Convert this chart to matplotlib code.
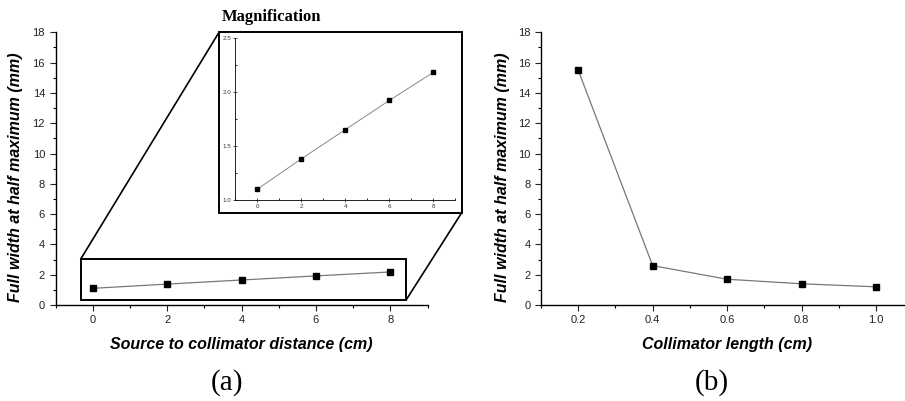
import numpy as np
import matplotlib
matplotlib.use("Agg")
import matplotlib.pyplot as plt
from matplotlib.patches import Rectangle, ConnectionPatch
from matplotlib.ticker import MultipleLocator

plt.rcParams['font.family'] = ['Liberation Sans', 'DejaVu Sans']

# (a) source to collimator distance
dist_cm = [0, 2, 4, 6, 8]
fwhm_dist = [1.10, 1.38, 1.65, 1.92, 2.18]

# (b) collimator length
length_cm = [0.2, 0.4, 0.6, 0.8, 1.0]
fwhm_len = [15.5, 2.6, 1.7, 1.4, 1.2]

W, H = 905, 401
fig = plt.figure(figsize=(W / 100, H / 100), dpi=100)

def px(x0, y_top, x1, y_bot):
    # pixel box -> figure fraction [left, bottom, width, height]
    return [x0 / W, 1 - y_bot / H, (x1 - x0) / W, (y_bot - y_top) / H]

def style_axes(ax, size=8, major=4, minor=2):
    ax.spines['top'].set_visible(False)
    ax.spines['right'].set_visible(False)
    for s in ('left', 'bottom'):
        ax.spines[s].set_linewidth(1.0)
    ax.tick_params(which='major', direction='out', length=major, width=0.8,
                   labelsize=size, colors='#222222')
    ax.tick_params(which='minor', direction='out', length=minor, width=0.8)

label_font = dict(fontsize=11.5, fontweight='bold', fontstyle='italic')

# ---- panel (a)
ax1 = fig.add_axes(px(55.5, 32.3, 427.5, 305))
ax1.plot(dist_cm, fwhm_dist, color='#777777', lw=0.9, marker='s',
         ms=4, mfc='black', mec='black')
ax1.set_xlim(-1, 9)
ax1.set_ylim(0, 18)
ax1.xaxis.set_major_locator(MultipleLocator(2))
ax1.xaxis.set_minor_locator(MultipleLocator(1))
ax1.yaxis.set_major_locator(MultipleLocator(2))
ax1.yaxis.set_minor_locator(MultipleLocator(1))
style_axes(ax1)
ax1.set_xlabel('Source to collimator distance (cm)', **label_font)
ax1.set_ylabel('Full width at half maximum (mm)', **label_font)
ax1.xaxis.set_label_coords(0.50, -0.117)
ax1.yaxis.set_label_coords(-0.087, 0.47)

# zoom rectangle
rx0, ry0, rx1, ry1 = -0.32, 0.35, 8.43, 3.04
ax1.add_patch(Rectangle((rx0, ry0), rx1 - rx0, ry1 - ry0, fill=False,
                        ec='black', lw=1.4, clip_on=False))

# inset frame
bx0, by0, bx1, by1 = 219 / W, 1 - 212.7 / H, 461.7 / W, 1 - 32.3 / H
fig.patches.append(Rectangle((bx0, by0), bx1 - bx0, by1 - by0, fill=False,
                             ec='black', lw=1.4, transform=fig.transFigure))
for (xa, ya), (xb, yb) in [((rx0, ry1), (bx0, by1)), ((rx1, ry0), (bx1, by0))]:
    fig.add_artist(ConnectionPatch((xa, ya), (xb, yb), coordsA='data',
                                   coordsB='figure fraction', axesA=ax1,
                                   color='black', lw=1.2))

fig.text(272 / W, 1 - 17 / H, 'Magnification', family='Liberation Serif',
         fontsize=12, fontweight='bold', ha='center', va='center')

ins = fig.add_axes(px(235.3, 37.7, 455.3, 200))
ins.plot(dist_cm, fwhm_dist, color='#888888', lw=0.7, marker='s',
         ms=2.3, mfc='black', mec='black')
ins.set_xlim(-1, 9)
ins.set_ylim(1.0, 2.5)
ins.xaxis.set_major_locator(MultipleLocator(2))
ins.xaxis.set_minor_locator(MultipleLocator(1))
ins.yaxis.set_major_locator(MultipleLocator(0.5))
ins.yaxis.set_minor_locator(MultipleLocator(0.25))
ins.yaxis.set_major_formatter(plt.FormatStrFormatter('%.1f'))
ins.spines['top'].set_visible(False)
ins.spines['right'].set_visible(False)
for s in ('left', 'bottom'):
    ins.spines[s].set_linewidth(0.6)
ins.tick_params(which='major', direction='inout', length=3, width=0.6,
                labelsize=4.5, colors='#333333', pad=1.5)
ins.tick_params(which='minor', direction='in', length=1.5, width=0.6)

# ---- panel (b)
ax2 = fig.add_axes(px(541, 32.3, 913.2, 305))
ax2.plot(length_cm, fwhm_len, color='#777777', lw=0.9, marker='s',
         ms=4, mfc='black', mec='black')
ax2.set_xlim(0.1, 1.1)
ax2.set_ylim(0, 18)
ax2.xaxis.set_major_locator(MultipleLocator(0.2))
ax2.xaxis.set_minor_locator(MultipleLocator(0.1))
ax2.yaxis.set_major_locator(MultipleLocator(2))
ax2.yaxis.set_minor_locator(MultipleLocator(1))
ax2.xaxis.set_major_formatter(plt.FormatStrFormatter('%.1f'))
style_axes(ax2)
ax2.set_xlabel('Collimator length (cm)', **label_font)
ax2.set_ylabel('Full width at half maximum (mm)', **label_font)
ax2.xaxis.set_label_coords(0.50, -0.117)
ax2.yaxis.set_label_coords(-0.083, 0.47)

fig.text(227 / W, 1 - 383 / H, '(a)', family='Liberation Serif',
         fontsize=21, ha='center', va='center')
fig.text(712 / W, 1 - 383 / H, '(b)', family='Liberation Serif',
         fontsize=21, ha='center', va='center')

fig.savefig('out.png', dpi=100)
